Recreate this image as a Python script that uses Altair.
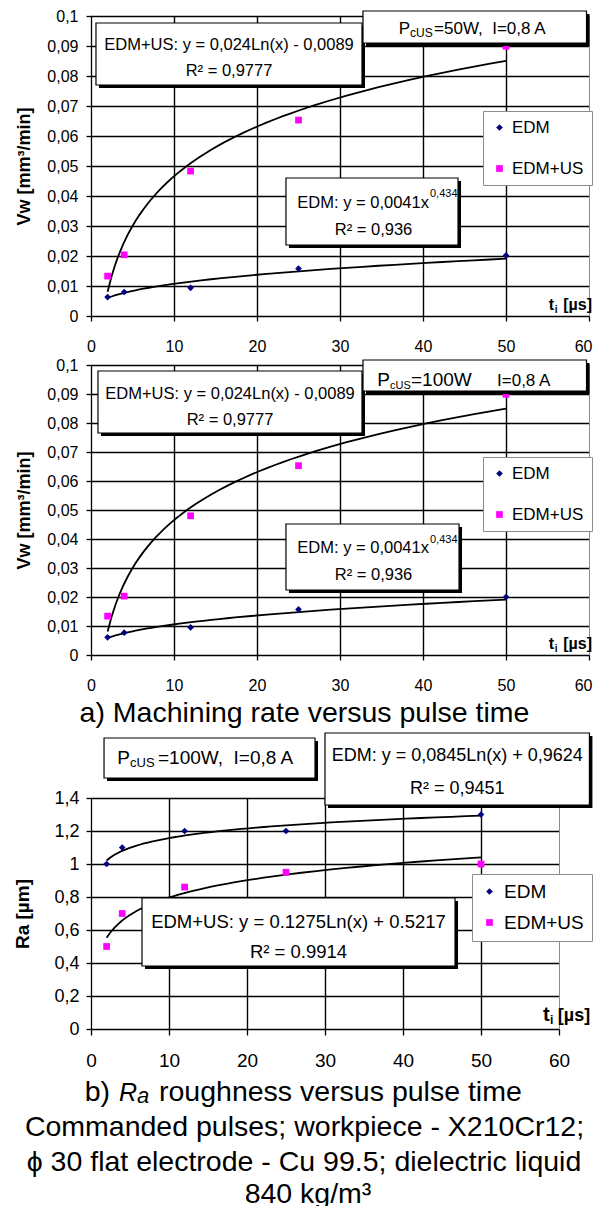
import altair as alt
import pandas as pd

FONT = "Liberation Sans"

# ---------------- data ----------------
pulse_time_us = [2, 4, 12, 25, 50]
series = ["EDM", "EDM+US"]

vw_edm_50w = [0.0063, 0.0080, 0.0094, 0.0158, 0.0202]
vw_edmus_50w = [0.0133, 0.0204, 0.0483, 0.0653, 0.0899]
vw_edm_100w = [0.0061, 0.0077, 0.0095, 0.0157, 0.0200]
vw_edmus_100w = [0.0134, 0.0203, 0.0480, 0.0653, 0.0899]
ra_edm = [1.00, 1.10, 1.20, 1.20, 1.30]
ra_edmus = [0.50, 0.70, 0.86, 0.95, 1.00]

x_tick_values = [0, 10, 20, 30, 40, 50, 60]
vw_tick_values = [0, 0.01, 0.02, 0.03, 0.04, 0.05, 0.06, 0.07, 0.08, 0.09, 0.1]
ra_tick_values = [0, 0.2, 0.4, 0.6, 0.8, 1.0, 1.2, 1.4]

series_colors = ["#000080", "#ff00ff"]
series_shapes = ["diamond", "square"]

caption_a = "a) Machining rate versus pulse time"
caption_lines = [
    "Commanded pulses; workpiece - X210Cr12;",
    "\u03d5 30 flat electrode - Cu 99.5; dielectric liquid",
    "840 kg/m\u00b3",
]


def table(edm, edmus):
    return pd.DataFrame({
        "x": pulse_time_us + pulse_time_us,
        "y": edm + edmus,
        "series": [series[0]] * len(edm) + [series[1]] * len(edmus),
    })


def make_panel(df, cfg):
    W, H, ymax = cfg["W"], cfg["H"], cfg["ymax"]
    xs = alt.Scale(domain=[0, 60], nice=False, zero=False)
    ys = alt.Scale(domain=[0, ymax], nice=False, zero=False)
    x_axis = alt.Axis(
        values=x_tick_values, title=None, grid=False,
        domainColor="#000000", domainWidth=1.3, tickColor="#000000", tickWidth=1.3, tickSize=cfg["xtick"],
        labelFont=FONT, labelFontSize=cfg["xfs"], labelColor="#000000",
        labelAlign={"condition": {"test": "datum.value === 60", "value": cfg["lastAlign"]}, "value": "center"},
        labelOffset={"condition": {"test": "datum.value === 60", "value": cfg["lastOffset"]}, "value": 0},
        labelPadding=cfg["xpad"], labelFlush=False, labelOverlap=False)
    y_axis = alt.Axis(
        values=cfg["yticks"], title=cfg["ytitle"], grid=False,
        domainColor="#000000", domainWidth=1.3, tickColor="#000000", tickWidth=1.3, tickSize=5,
        labelFont=FONT, labelFontSize=cfg["yfs"], labelColor="#000000", labelPadding=cfg["ypad"],
        labelExpr="replace(format(datum.value, '~g'), '.', ',')", labelOverlap=False,
        titleFont=FONT, titleFontSize=cfg["tfs"], titleFontWeight="bold", titleColor="#000000",
        titleX=cfg["titleX"], titleBaseline="middle")
    X = alt.X("x:Q", scale=xs, axis=x_axis)
    Y = alt.Y("y:Q", scale=ys, axis=y_axis)

    lg = cfg["legend"]
    leg = alt.Legend(
        title=None, orient="none", legendX=lg["x"], legendY=lg["y"],
        fillColor="white", strokeColor="#8c8c8c", padding=lg["pad"],
        labelFont=FONT, labelFontSize=lg["fs"], labelColor="#000000",
        rowPadding=lg["row"], labelOffset=lg["off"], symbolSize=45, symbolStrokeWidth=0)

    color = alt.Color("series:N", scale=alt.Scale(domain=series, range=series_colors), legend=leg)
    shape = alt.Shape("series:N", scale=alt.Scale(domain=series, range=series_shapes), legend=leg)

    # Excel-style black grid at the tick values (pixel-aligned), grey right-hand border
    vgrid = pd.DataFrame({"x": x_tick_values[1:-1], "y": 0.0, "y2": ymax})
    hgrid = pd.DataFrame({"y": cfg["yticks"][1:], "x": 0.0, "x2": 60.0})
    frame = pd.DataFrame({"x": [60], "y": [0], "y2": [ymax]})
    layers = [
        alt.Chart(vgrid).mark_rule(color="#000000", strokeWidth=1.4, xOffset=0.5).encode(x=X, y=Y, y2="y2:Q"),
        alt.Chart(hgrid).mark_rule(color="#000000", strokeWidth=1.4, yOffset=0.5).encode(y=Y, x=X, x2="x2:Q"),
        alt.Chart(frame).mark_rule(color="#8c8c8c", strokeWidth=1, xOffset=0.5).encode(x=X, y=Y, y2="y2:Q"),
    ]

    for name, method in cfg["fits"]:
        layers.append(
            alt.Chart(df).transform_filter(alt.datum.series == name)
            .transform_regression("x", "y", method=method)
            .mark_line(color="black", strokeWidth=1.8)
            .encode(x=X, y=Y))
    layers.append(
        alt.Chart(df).mark_point(filled=True, size=45, opacity=1).encode(
            x=X, y=Y, color=color, shape=shape))

    dx = 3 * 60 / W
    dy = 3 * ymax / H
    boxes = pd.DataFrame(cfg["boxes"], columns=["x", "x2", "y", "y2"])
    shadow = pd.DataFrame({"x": boxes.x + dx, "x2": boxes.x2 + dx, "y": boxes.y - dy, "y2": boxes.y2 - dy})
    layers.append(alt.Chart(shadow).mark_rect(color="black").encode(
        x=X, x2="x2:Q", y=Y, y2="y2:Q"))
    layers.append(alt.Chart(boxes).mark_rect(fill="white", stroke="black", strokeWidth=1.2).encode(
        x=X, x2="x2:Q", y=Y, y2="y2:Q"))

    for (tx, ty, text, size, align, weight, style, tdy) in cfg["texts"]:
        layers.append(
            alt.Chart(pd.DataFrame({"x": [tx], "y": [ty], "t": [text]}))
            .mark_text(font=FONT, fontSize=size, align=align, baseline="alphabetic",
                       fontWeight=weight, fontStyle=style, dy=tdy, color="black")
            .encode(x=X, y=Y, text="t:N"))

    layers.extend(cfg.get("extra", []))
    return alt.layer(*layers).properties(width=W, height=H)


N, B, I = "normal", "bold", "italic"

p1 = dict(
    W=498, H=300, ymax=0.1, yticks=vw_tick_values, ytitle="Vw [mm\u00b3/min]", titleX=-67, tfs=18,
    xfs=16, yfs=16, xtick=5, xpad=17, ypad=8, lastAlign="right", lastOffset=3,
    legend=dict(x=392, y=95, pad=8, fs=17, row=23, off=4),
    fits=[("EDM", "pow"), ("EDM+US", "log")],
    boxes=[(0.6, 32.65, 0.0770, 0.09767), (32.77, 59.7, 0.0910, 0.10167), (23.49, 44.22, 0.02367, 0.0460)],
    texts=[
        (16.63, 0.08867, "EDM+US: y = 0,024Ln(x) - 0,0089", 16.5, "center", N, N, 0),
        (16.63, 0.0800, "R\u00b2 = 0,9777", 16.5, "center", N, N, 0),
        (38.43, 0.0940, "P", 17, "right", N, N, 0),
        (38.43, 0.0940, "cUS", 12, "left", N, N, 3),
        (41.33, 0.0940, "=50W,\u00a0\u00a0I=0,8 A", 17, "left", N, N, 0),
        (40.72, 0.0360, "EDM: y = 0,0041x", 16.5, "right", N, N, 0),
        (40.84, 0.03967, "0,434", 11, "left", N, N, 0),
        (34.04, 0.0270, "R\u00b2 = 0,936", 16.5, "center", N, N, 0),
        (55.8, 0.0020, "t", 16, "right", B, N, 0),
        (55.86, 0.0020, "i", 10, "left", B, N, 3),
        (60.36, 0.0020, "[\u00b5s]", 16, "right", B, N, 0),
    ],
    extra=[alt.Chart(pd.DataFrame({"a": [0]})).mark_rect(opacity=0).encode(
        x=alt.value(-82), x2=alt.value(-81), y=alt.value(-12), y2=alt.value(-11))],
)

p2 = dict(
    W=498, H=290, ymax=0.1, yticks=vw_tick_values, ytitle="Vw [mm\u00b3/min]", titleX=-67, tfs=18,
    xfs=16, yfs=16, xtick=5, xpad=17, ypad=8, lastAlign="right", lastOffset=3,
    legend=dict(x=392, y=92, pad=8, fs=17, row=23, off=4),
    fits=[("EDM", "pow"), ("EDM+US", "log")],
    boxes=[(0.84, 32.65, 0.07655, 0.09793), (32.77, 59.7, 0.09103, 0.10172), (23.49, 44.34, 0.02241, 0.04517)],
    texts=[
        (16.75, 0.08828, "EDM+US: y = 0,024Ln(x) - 0,0089", 16.5, "center", N, N, 0),
        (16.75, 0.07931, "R\u00b2 = 0,9777", 16.5, "center", N, N, 0),
        (36.02, 0.09276, "P", 19, "right", N, N, 0),
        (36.02, 0.09276, "cUS", 11, "left", N, N, 3),
        (38.55, 0.09276, "=100W", 19, "left", N, N, 0),
        (48.92, 0.09276, "I=0,8 A", 17, "left", N, N, 0),
        (40.72, 0.03517, "EDM: y = 0,0041x", 16.5, "right", N, N, 0),
        (40.84, 0.03862, "0,434", 11, "left", N, N, 0),
        (34.04, 0.02586, "R\u00b2 = 0,936", 16.5, "center", N, N, 0),
        (55.8, 0.00207, "t", 16, "right", B, N, 0),
        (55.86, 0.00207, "i", 10, "left", B, N, 3),
        (60.36, 0.00207, "[\u00b5s]", 16, "right", B, N, 0),
    ],
)

p3 = dict(
    W=468, H=231, ymax=1.4, yticks=ra_tick_values, ytitle="Ra [\u00b5m]", titleX=-69, tfs=19,
    xfs=19, yfs=18, xtick=6, xpad=16, ypad=7, lastAlign="center", lastOffset=0,
    legend=dict(x=381, y=76, pad=8, fs=19, row=11, off=5),
    fits=[("EDM", "log"), ("EDM+US", "log")],
    boxes=[(1.67, 28.72, 1.5212, 1.7636), (30.0, 63.9, 1.3576, 1.794), (6.54, 46.67, 0.3818, 0.7939)],
    texts=[
        (5.0, 1.606, "P", 19, "right", N, N, 0),
        (5.0, 1.606, "cUS", 13, "left", N, N, 3),
        (8.59, 1.606, "=100W,\u00a0\u00a0I=0,8 A", 19, "left", N, N, 0),
        (46.95, 1.6242, "EDM: y = 0,0845Ln(x) + 0,9624", 18, "center", N, N, 0),
        (46.95, 1.4242, "R\u00b2 = 0,9451", 18, "center", N, N, 0),
        (26.6, 0.6121, "EDM+US: y = 0.1275Ln(x) + 0.5217", 18.5, "center", N, N, 0),
        (26.6, 0.4303, "R\u00b2 = 0.9914", 18.5, "center", N, N, 0),
        (57.95, 0.0485, "t", 20, "left", B, N, 0),
        (58.85, 0.0485, "i", 12, "left", B, N, 3),
        (64.0, 0.0485, "[\u00b5s]", 18, "right", B, N, 0),
        (2.44, -0.4364, "b)", 28.5, "right", N, N, 0),
        (3.59, -0.4364, "R", 25, "left", N, I, 0),
        (5.9, -0.4364, "a", 22, "left", N, I, 2),
        (8.72, -0.4364, "roughness versus pulse time", 28.5, "left", N, N, 0),
        (27.37, -0.6485, caption_lines[0], 28.5, "center", N, N, 0),
        (27.31, -0.8606, caption_lines[1], 28.5, "center", N, N, 0),
        (27.82, -1.0545, caption_lines[2], 28.5, "center", N, N, 0),
    ],
)

panel1 = make_panel(table(vw_edm_50w, vw_edmus_50w), p1)
panel2 = make_panel(table(vw_edm_100w, vw_edmus_100w), p2)
panel3 = make_panel(table(ra_edm, ra_edmus), p3)

spacer = alt.Chart(pd.DataFrame({"x": [25.72], "t": [caption_a]})).mark_text(
    font=FONT, fontSize=28.5, align="center", baseline="alphabetic", color="black"
).encode(
    x=alt.X("x:Q", scale=alt.Scale(domain=[0, 60], nice=False, zero=False), axis=None),
    y=alt.value(18), text="t:N",
).properties(width=498, height=45)

chart = alt.vconcat(
    panel1, panel2, spacer, panel3, spacing=49, bounds="flush"
).resolve_scale(
    color="independent", shape="independent"
).resolve_legend(
    color="independent", shape="independent"
).properties(
    padding={"left": 0, "top": -5, "right": 0, "bottom": 0}
).configure(font=FONT).configure_view(stroke="transparent")

chart.save("out.html", embed_options={"renderer": "svg", "actions": False})
